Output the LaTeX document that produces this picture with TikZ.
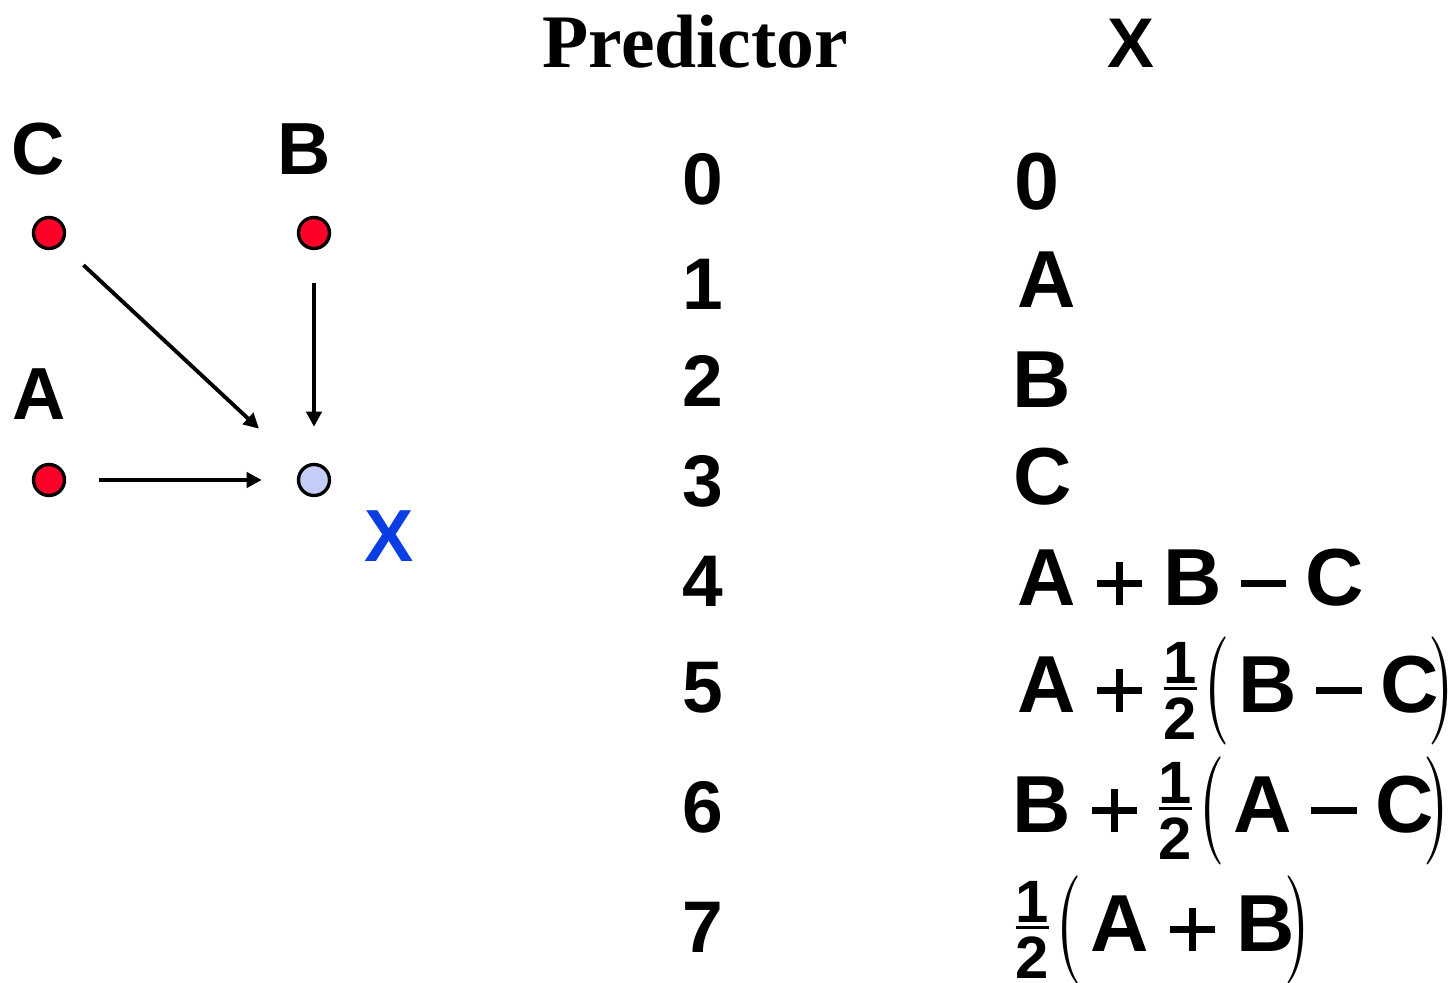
\documentclass[tikz,border=0pt]{standalone}
\usepackage{amsmath}
\usepackage{graphicx}
\usepackage{fontspec}
\setmainfont{Liberation Sans}
\newfontfamily\headserif{Liberation Serif}
\usetikzlibrary{arrows.meta}

\definecolor{dotred}{RGB}{255,0,40}
\definecolor{dotlav}{RGB}{195,205,248}
\definecolor{xblue}{RGB}{10,61,226}

% pieces of the formulas
\newcommand\fracsz{\fontsize{17}{17}\selectfont\bfseries}
\newcommand\half{\mathord{\vcenter{\offinterlineskip\halign{\hfil##\hfil\cr\fracsz 1\cr\noalign{\kern1.1pt\hrule height0.6pt\kern2.4pt}\fracsz 2\cr}}}}
\newcommand\lpar{\mkern1mu\mathopen{\vcenter{\hbox{\scalebox{0.68}[1.03]{$\bigl($}}}}\mkern2mu}
\newcommand\rpar{\mkern-2mu\mathclose{\vcenter{\hbox{\scalebox{0.68}[1.03]{$\bigr)$}}}}}
\newcommand\pl{\mathbin{\kern0.5pt\rlap{\rule[5.5pt]{12.8pt}{2pt}}\kern5.4pt\rule[0.2pt]{2pt}{12.2pt}\kern5.4pt\kern0.5pt}}
\newcommand\mi{\mathbin{\rule[5.5pt]{12.8pt}{2pt}}}
\newcommand\sy[1]{\mbox{#1}}

\tikzset{
  dot/.style={circle, draw=black, line width=0.95pt, minimum size=0.31cm, inner sep=0pt, fill=dotred},
  lbl/.style={anchor=base, inner sep=0pt, font=\fontsize{21}{25}\selectfont\bfseries},
  link/.style={line width=1.1pt, -{Triangle[length=4.3pt,width=4.3pt]}},
  num/.style={anchor=base, inner sep=0pt, font=\fontsize{20.8}{25}\selectfont\bfseries},
  expr/.style={anchor=base west, inner sep=0pt, font=\fontsize{23}{28}\selectfont\bfseries},
}

\begin{document}
\begin{tikzpicture}[x=0.01cm, y=-0.01cm]
\useasboundingbox (0,0) rectangle (1454,983);

% graph of neighbours
\node[dot] (c) at (49,233) {};
\node[dot] (b) at (314,233) {};
\node[dot] (a) at (49,480) {};
\node[dot, fill=dotlav] (x) at (314,480) {};

\node[lbl] (lc) at (38,175) {C};
\node[lbl] (lb) at (304,175) {B};
\node[lbl] (la) at (39,420) {A};
\node[lbl, text=xblue] (lx) at (389,562) {X};

\draw[link, shorten <=0.33cm, shorten >=0.35cm] (a) -- (x);
\draw[link, shorten <=0.33cm, shorten >=0.36cm] (b) -- (x);
\draw[link, shorten <=0.30cm, shorten >=0.58cm] (c) -- (x);

% table headers
\node[anchor=base west, inner sep=0pt, font=\fontsize{21.5}{26}\selectfont\headserif\bfseries] (hp) at (542,68) {Predictor};
\node[anchor=base, inner sep=0pt, font=\fontsize{20}{24}\selectfont\bfseries] (hx) at (1131,68) {X};

% predictor numbers
\node[num] (n0) at (703,205) {0};
\node[num] (n1) at (703,310) {1};
\node[num] (n2) at (703,407) {2};
\node[num] (n3) at (703,507) {3};
\node[num] (n4) at (703,607) {4};
\node[num] (n5) at (703,713) {5};
\node[num] (n6) at (703,833) {6};
\node[num] (n7) at (703,953) {7};

% predicted values
\node[expr] (e0) at (1014,210) {0};
\node[expr] (e1) at (1017,308) {A};
\node[expr] (e2) at (1012,408) {B};
\node[expr] (e3) at (1013,505) {C};
\node[expr] (e4) at (1017,606) {$\sy{A}\pl\sy{B}\mi\sy{C}$};
\node[expr] (e5) at (1017,713) {$\sy{A}\pl\half\lpar\sy{B}\mi\sy{C}\rpar$};
\node[expr] (e6) at (1012,833) {$\sy{B}\pl\half\lpar\sy{A}\mi\sy{C}\rpar$};
\node[expr] (e7) at (1015,952) {$\half\lpar\sy{A}\pl\sy{B}\rpar$};
\end{tikzpicture}
\end{document}
